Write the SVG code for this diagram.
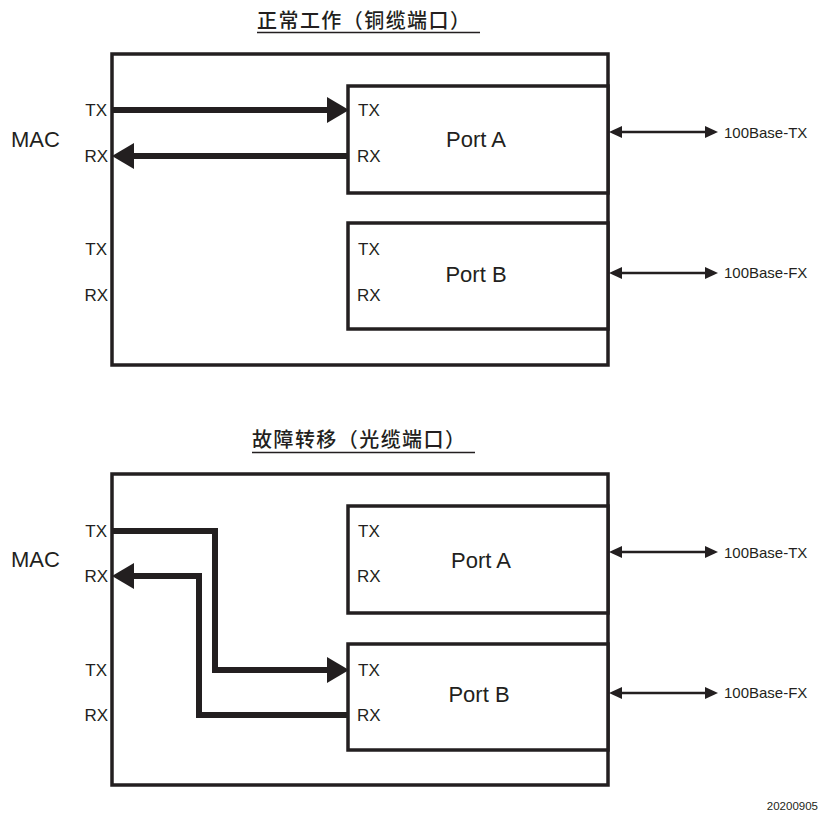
<svg xmlns="http://www.w3.org/2000/svg" width="825" height="818" viewBox="0 0 825 818">
<defs>
<style>
.bg{fill:#ffffff}
.box{fill:none;stroke:#231f20;stroke-width:3.5}
.port{fill:#ffffff;stroke:#231f20;stroke-width:3.5}
.thick{fill:none;stroke:#231f20;stroke-width:6;stroke-linejoin:miter}
.thin{fill:none;stroke:#231f20;stroke-width:2.5}
.t{font-family:"Liberation Sans",Arial,sans-serif;fill:#231f20}
.sig{font-size:17px}
.big{font-size:22px}
.lnk{font-size:15px}
.ttl{font-family:"Noto Sans CJK SC","Liberation Sans",sans-serif;font-size:20px;font-weight:500;fill:#231f20}
.ul{stroke:#231f20;stroke-width:1.5}
</style>
<marker id="bigArrow" markerUnits="userSpaceOnUse" markerWidth="22" markerHeight="26" refX="11" refY="13" orient="auto">
<path d="M0,0 L22,13 L0,26 z" fill="#231f20"/>
</marker>
<marker id="smallEnd" markerUnits="userSpaceOnUse" markerWidth="13" markerHeight="12" refX="5" refY="6" orient="auto">
<path d="M0,0 L13,6 L0,12 z" fill="#231f20"/>
</marker>
<marker id="smallStart" markerUnits="userSpaceOnUse" markerWidth="13" markerHeight="12" refX="8" refY="6" orient="auto">
<path d="M13,0 L0,6 L13,12 z" fill="#231f20"/>
</marker>
</defs>
<rect class="bg" x="0" y="0" width="825" height="818"/>

<!-- Titles -->
<g id="title-top">
<text class="ttl" x="257" y="28" textLength="213" lengthAdjust="spacing">正常工作（铜缆端口）</text>
<line class="ul" x1="257" y1="32.5" x2="480" y2="32.5"/>
</g>
<g id="title-bottom">
<text class="ttl" x="252" y="447" textLength="213" lengthAdjust="spacing">故障转移（光缆端口）</text>
<line class="ul" x1="252" y1="452.5" x2="475" y2="452.5"/>
</g>

<!-- Top diagram -->
<g id="mac-top">
<rect class="box" x="112" y="54" width="496" height="311"/>
<text class="t big" x="11" y="147">MAC</text>
<text class="t sig" x="107" y="116" text-anchor="end">TX</text>
<text class="t sig" x="108" y="162" text-anchor="end">RX</text>
<text class="t sig" x="107" y="255" text-anchor="end">TX</text>
<text class="t sig" x="108" y="301" text-anchor="end">RX</text>
</g>
<g id="portA-top">
<rect class="port" x="348" y="86" width="260" height="107"/>
<text class="t sig" x="358" y="116">TX</text>
<text class="t sig" x="357" y="162">RX</text>
<text class="t big" x="476" y="147" text-anchor="middle">Port A</text>
</g>
<g id="portB-top">
<rect class="port" x="348" y="223" width="260" height="106"/>
<text class="t sig" x="358" y="255">TX</text>
<text class="t sig" x="357" y="301">RX</text>
<text class="t big" x="476" y="282" text-anchor="middle">Port B</text>
</g>
<g id="link-top-tx">
<text class="t lnk" x="724" y="138">100Base-TX</text>
</g>
<g id="link-top-fx">
<text class="t lnk" x="724" y="278">100Base-FX</text>
</g>

<!-- Bottom diagram -->
<g id="mac-bottom">
<rect class="box" x="112" y="474" width="496" height="311"/>
<text class="t big" x="11" y="567">MAC</text>
<text class="t sig" x="107" y="537" text-anchor="end">TX</text>
<text class="t sig" x="108" y="582" text-anchor="end">RX</text>
<text class="t sig" x="107" y="676" text-anchor="end">TX</text>
<text class="t sig" x="108" y="721" text-anchor="end">RX</text>
</g>
<g id="portA-bottom">
<rect class="port" x="348" y="506" width="260" height="107"/>
<text class="t sig" x="358" y="537">TX</text>
<text class="t sig" x="357" y="582">RX</text>
<text class="t big" x="481" y="568" text-anchor="middle">Port A</text>
</g>
<g id="portB-bottom">
<rect class="port" x="348" y="644" width="260" height="106"/>
<text class="t sig" x="358" y="676">TX</text>
<text class="t sig" x="357" y="721">RX</text>
<text class="t big" x="479" y="702" text-anchor="middle">Port B</text>
</g>
<g id="link-bottom-tx">
<text class="t lnk" x="724" y="558">100Base-TX</text>
</g>
<g id="link-bottom-fx">
<text class="t lnk" x="724" y="698">100Base-FX</text>
</g>

<g id="date">
<text class="t" x="818" y="810" text-anchor="end" font-size="11.5">20200905</text>
</g>

<!-- Connectors -->
<g id="connectors">
<path class="thick" d="M113,110 H338" marker-end="url(#bigArrow)"/>
<path class="thick" d="M347,156 H123" marker-end="url(#bigArrow)"/>
<path class="thick" d="M113,531 H215 V670 H338" marker-end="url(#bigArrow)"/>
<path class="thick" d="M347,715 H199 V576 H123" marker-end="url(#bigArrow)"/>
<path class="thin" d="M617,132 H710" marker-start="url(#smallStart)" marker-end="url(#smallEnd)"/>
<path class="thin" d="M617,273 H710" marker-start="url(#smallStart)" marker-end="url(#smallEnd)"/>
<path class="thin" d="M617,552 H710" marker-start="url(#smallStart)" marker-end="url(#smallEnd)"/>
<path class="thin" d="M617,693 H710" marker-start="url(#smallStart)" marker-end="url(#smallEnd)"/>
</g>
</svg>
